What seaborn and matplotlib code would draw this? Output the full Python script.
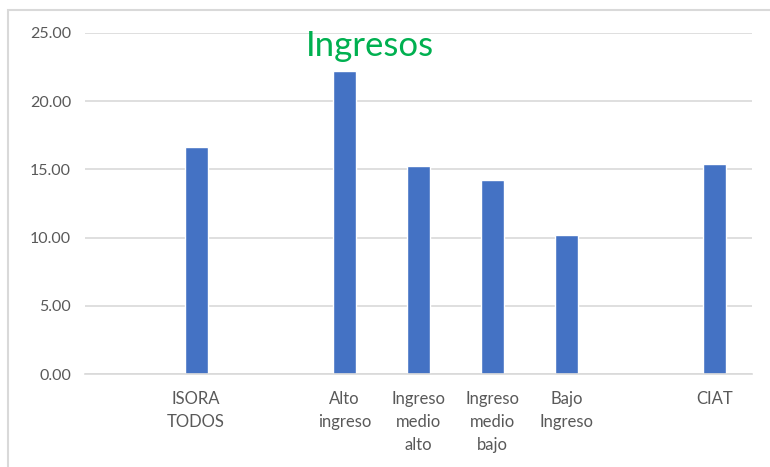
import pandas as pd
import seaborn as sns
import matplotlib.pyplot as plt
from matplotlib.patches import Rectangle

# Data
categories = ["ISORA\nTODOS", "Alto\ningreso", "Ingreso\nmedio\nalto",
              "Ingreso\nmedio\nbajo", "Bajo\nIngreso", "CIAT"]
values = [16.65, 22.25, 15.25, 14.25, 10.2, 15.4]

# Slot order on the x axis, empty slots are gaps
order = ["gap0", "ISORA\nTODOS", "gap1", "Alto\ningreso", "Ingreso\nmedio\nalto",
         "Ingreso\nmedio\nbajo", "Bajo\nIngreso", "gap2", "CIAT"]
tick_labels = [c if not c.startswith("gap") else "" for c in order]
yticks = [0, 5, 10, 15, 20, 25]

df = pd.DataFrame({"categoria": categories, "valor": values})

sns.set_style("white")
plt.rcParams['font.family'] = ['Lato', 'DejaVu Sans']

fig = plt.figure(figsize=(7.7, 4.67), dpi=100)
ax = fig.add_axes([85 / 770, 1 - 374 / 467, (752 - 85) / 770, (374 - 33) / 467])

sns.barplot(data=df, x="categoria", y="valor", order=order, color="#4472C4",
            width=0.31, saturation=1, ax=ax)

ax.set_ylim(0, 25)
ax.set_yticks(yticks)
ax.set_yticklabels([f"{v:.2f}" for v in yticks], fontsize=11.5, color="#595959")
ax.set_xticks(range(len(order)))
ax.set_xticklabels(tick_labels, fontsize=12, color="#595959", linespacing=1.55)
ax.tick_params(axis="both", length=0, pad=10)
ax.tick_params(axis="x", pad=12)
ax.set_xlabel("")
ax.set_ylabel("")
ax.yaxis.grid(True, color="#D9D9D9", linewidth=1.2)
ax.set_axisbelow(True)
for side in ["top", "right", "left"]:
    ax.spines[side].set_visible(False)
ax.spines["bottom"].set_color("#D9D9D9")
ax.spines["bottom"].set_linewidth(1.2)

fig.text(370 / 770, 1 - 56 / 467, "Ingresos", color="#00B050", fontsize=25,
         ha="center", va="baseline")

# light frame around the chart area (left and top edges only visible)
fig.patches.append(Rectangle((8 / 770, -0.1), 1.2, 1 - 10 / 467 + 0.1,
                             transform=fig.transFigure, fill=False,
                             edgecolor="#D9D9D9", linewidth=1.5))

fig.savefig("out.png", dpi=100)
